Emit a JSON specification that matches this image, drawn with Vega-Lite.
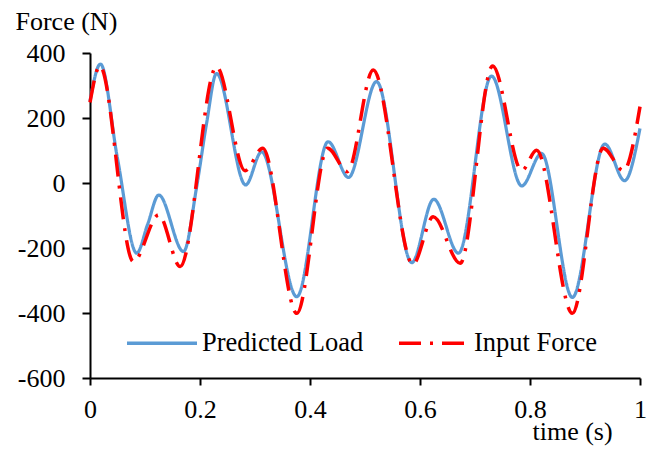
{
  "$schema": "https://vega.github.io/schema/vega-lite/v6.json",
  "width": 550,
  "height": 325,
  "autosize": {"type": "none"},
  "padding": {"left": 90, "top": 53, "right": 16, "bottom": 79},
  "config": {
    "view": {"stroke": null},
    "font": "Liberation Serif",
    "axis": {"labelFont": "Liberation Serif", "titleFont": "Liberation Serif"},
    "legend": {"labelFont": "Liberation Serif"}
  },
  "data": {"values": [
    {"t": 0.000, "v": 252, "series": "Predicted Load"},
    {"t": 0.019, "v": 366, "series": "Predicted Load"},
    {"t": 0.050, "v": 75, "series": "Predicted Load"},
    {"t": 0.085, "v": -216, "series": "Predicted Load"},
    {"t": 0.105, "v": -126, "series": "Predicted Load"},
    {"t": 0.125, "v": -37, "series": "Predicted Load"},
    {"t": 0.170, "v": -211, "series": "Predicted Load"},
    {"t": 0.194, "v": -11, "series": "Predicted Load"},
    {"t": 0.212, "v": 184, "series": "Predicted Load"},
    {"t": 0.230, "v": 337, "series": "Predicted Load"},
    {"t": 0.283, "v": -6, "series": "Predicted Load"},
    {"t": 0.312, "v": 96, "series": "Predicted Load"},
    {"t": 0.376, "v": -350, "series": "Predicted Load"},
    {"t": 0.433, "v": 127, "series": "Predicted Load"},
    {"t": 0.470, "v": 17, "series": "Predicted Load"},
    {"t": 0.521, "v": 312, "series": "Predicted Load"},
    {"t": 0.585, "v": -245, "series": "Predicted Load"},
    {"t": 0.625, "v": -50, "series": "Predicted Load"},
    {"t": 0.670, "v": -216, "series": "Predicted Load"},
    {"t": 0.730, "v": 329, "series": "Predicted Load"},
    {"t": 0.785, "v": -9, "series": "Predicted Load"},
    {"t": 0.821, "v": 91, "series": "Predicted Load"},
    {"t": 0.877, "v": -352, "series": "Predicted Load"},
    {"t": 0.936, "v": 120, "series": "Predicted Load"},
    {"t": 0.972, "v": 7, "series": "Predicted Load"},
    {"t": 1.000, "v": 168, "series": "Predicted Load"},
    {"t": 0.000, "v": 248, "series": "Input Force"},
    {"t": 0.018, "v": 360, "series": "Input Force"},
    {"t": 0.079, "v": -242, "series": "Input Force"},
    {"t": 0.125, "v": -98, "series": "Input Force"},
    {"t": 0.164, "v": -257, "series": "Input Force"},
    {"t": 0.230, "v": 358, "series": "Input Force"},
    {"t": 0.282, "v": 38, "series": "Input Force"},
    {"t": 0.314, "v": 107, "series": "Input Force"},
    {"t": 0.376, "v": -401, "series": "Input Force"},
    {"t": 0.432, "v": 107, "series": "Input Force"},
    {"t": 0.468, "v": 35, "series": "Input Force"},
    {"t": 0.515, "v": 348, "series": "Input Force"},
    {"t": 0.587, "v": -250, "series": "Input Force"},
    {"t": 0.624, "v": -104, "series": "Input Force"},
    {"t": 0.673, "v": -247, "series": "Input Force"},
    {"t": 0.732, "v": 360, "series": "Input Force"},
    {"t": 0.785, "v": 38, "series": "Input Force"},
    {"t": 0.812, "v": 101, "series": "Input Force"},
    {"t": 0.877, "v": -401, "series": "Input Force"},
    {"t": 0.933, "v": 107, "series": "Input Force"},
    {"t": 0.970, "v": 38, "series": "Input Force"},
    {"t": 1.000, "v": 235, "series": "Input Force"}
  ]},
  "encoding": {
    "x": {
      "field": "t", "type": "quantitative",
      "scale": {"domain": [0, 1], "nice": false},
      "axis": {
        "values": [0, 0.2, 0.4, 0.6, 0.8, 1], "labelExpr": "'' + datum.value", "grid": false,
        "domainColor": "black", "domainWidth": 2, "tickColor": "black", "tickWidth": 2, "tickSize": 7,
        "labelFontSize": 26, "labelColor": "black", "labelBaseline": "alphabetic", "labelPadding": 32, "labelFlush": false,
        "title": "time (s)", "titleFontSize": 26, "titleFontWeight": "normal", "titleColor": "black",
        "titleAlign": "left", "titleBaseline": "alphabetic", "titleX": 442, "titleY": 61
      }
    },
    "y": {
      "field": "v", "type": "quantitative",
      "scale": {"domain": [-600, 400], "nice": false},
      "axis": {
        "values": [-600, -400, -200, 0, 200, 400], "labelExpr": "'' + datum.value", "grid": false,
        "domainColor": "black", "domainWidth": 2, "tickColor": "black", "tickWidth": 2, "tickSize": 8,
        "labelFontSize": 26, "labelColor": "black", "labelPadding": 17,
        "title": "Force (N)", "titleFontSize": 26, "titleFontWeight": "normal", "titleColor": "black",
        "titleAngle": 0, "titleAlign": "left", "titleBaseline": "alphabetic", "titleX": -75, "titleY": -24
      }
    },
    "color": {
      "field": "series", "type": "nominal",
      "scale": {"domain": ["Predicted Load", "Input Force"], "range": ["#5B9BD5", "#FF0000"]},
      "legend": {
        "title": null, "orient": "none", "direction": "horizontal", "legendX": 35, "legendY": 253,
        "symbolType": "stroke", "symbolSize": 4900, "symbolStrokeWidth": 3.5,
        "labelFont": "Liberation Serif", "labelFontSize": 26.5, "labelColor": "black", "labelOffset": 3, "labelLimit": 300, "columnPadding": 28, "padding": 0
      }
    },
    "strokeDash": {
      "field": "series", "type": "nominal",
      "scale": {"domain": ["Predicted Load", "Input Force"], "range": [[1, 0], [22, 9, 3, 9]]},
      "legend": {
        "title": null, "orient": "none", "direction": "horizontal", "legendX": 35, "legendY": 253,
        "symbolType": "stroke", "symbolSize": 4900, "symbolStrokeWidth": 3.5,
        "labelFont": "Liberation Serif", "labelFontSize": 26.5, "labelColor": "black", "labelOffset": 3, "labelLimit": 300, "columnPadding": 28, "padding": 0
      }
    }
  },
  "layer": [
    {"transform": [{"filter": "datum.series === 'Predicted Load'"}], "mark": {"type": "line", "interpolate": "monotone", "strokeWidth": 3.2}},
    {"transform": [{"filter": "datum.series === 'Input Force'"}], "mark": {"type": "line", "interpolate": "monotone", "strokeWidth": 3.5}}
  ]
}
